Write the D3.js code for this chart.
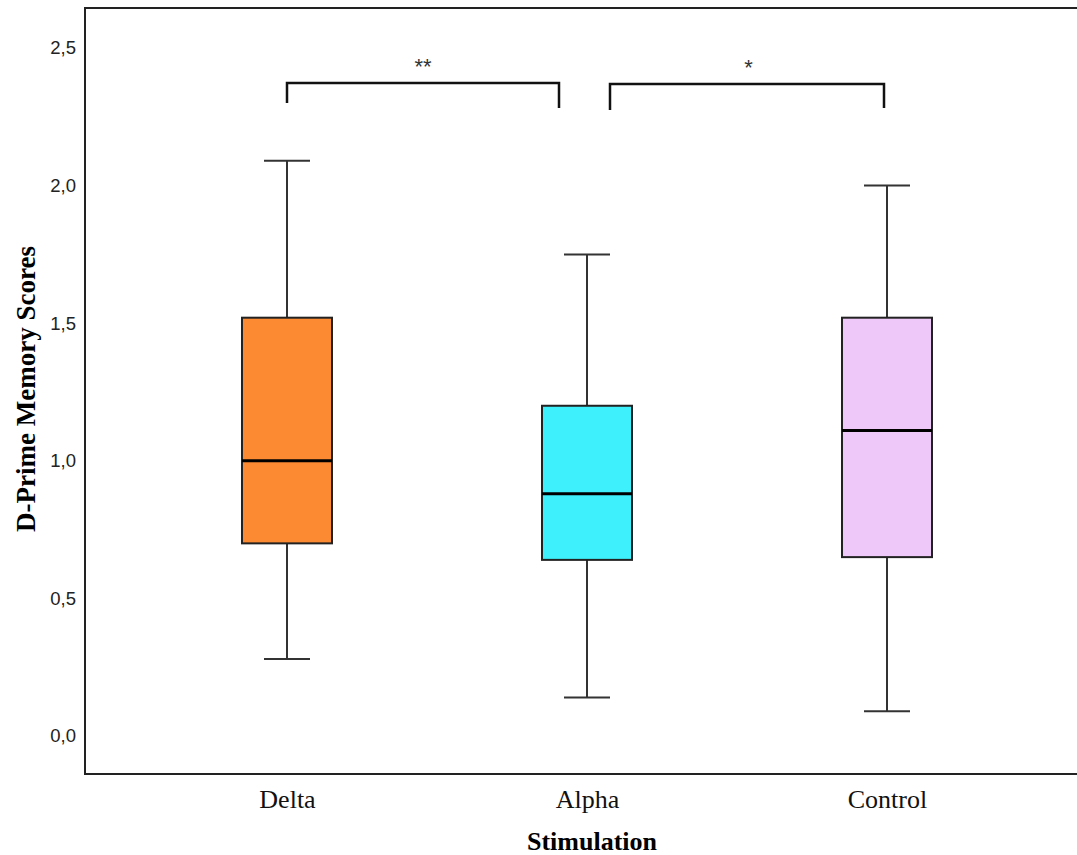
<!DOCTYPE html>
<html>
<head>
<meta charset="utf-8">
<script src="https://cdn.jsdelivr.net/npm/d3@7"></script>
<style>
  body { margin: 0; background: #fff; }
  svg { display: block; }
</style>
</head>
<body>
<div id="chart"></div>
<script>
// Datos
const groups = ["Delta", "Alpha", "Control"]
const whiskerLow = [0.28, 0.14, 0.09]
const q1 = [0.70, 0.64, 0.65]
const medians = [1.00, 0.88, 1.11]
const q3 = [1.52, 1.20, 1.52]
const whiskerHigh = [2.09, 1.75, 2.00]
const colors = ["#fb8a32", "#3ef0fb", "#eec8f9"]
const yTicks = [0, 0.5, 1.0, 1.5, 2.0, 2.5]

// Comparaciones significativas
const comparisons = [
    { from: "Delta", to: "Alpha", level: 2.373, legFrom: 2.30, legTo: 2.282, label: "**" },
    { from: "Alpha", to: "Control", level: 2.369, legFrom: 2.275, legTo: 2.282, label: "*" }
]

// Constantes
const width = 1077
const height = 855
const margins = { top: 8, bottom: 81, left: 85, right: -10 }

const svg = d3.select("#chart").append("svg").attr("width", width).attr("height", height)

const x = d3.scalePoint().domain(groups).range([287, 887])
const y = d3.scaleLinear().domain([0, 2.5]).range([736, 48])

const boxW = 90
const capW = 46

// Marco
svg.append("rect")
    .attr("x", margins.left).attr("y", margins.top)
    .attr("width", width - margins.left - margins.right)
    .attr("height", height - margins.top - margins.bottom)
    .attr("fill", "none").attr("stroke", "#222").attr("stroke-width", 2)

// Eje Y (solo etiquetas)
const yAxis = d3.axisLeft(y).tickValues(yTicks).tickSize(0).tickPadding(9)
    .tickFormat(d => d3.format(".1f")(d).replace(".", ","))
const gy = svg.append("g").attr("transform", `translate(${margins.left},0)`).call(yAxis)
gy.select(".domain").remove()
gy.selectAll("text").attr("font-family", "Liberation Sans, Arial, sans-serif")
    .attr("font-size", 18.5).attr("fill", "#222")

// Eje X (solo etiquetas)
const xAxis = d3.axisBottom(x).tickSize(0).tickPadding(16)
const gx = svg.append("g").attr("transform", `translate(0,${height - margins.bottom})`).call(xAxis)
gx.select(".domain").remove()
gx.selectAll("text").attr("font-family", "Liberation Serif, Times New Roman, serif")
    .attr("font-size", 26).attr("fill", "#111")

// Titulos
svg.append("text")
    .attr("x", 592).attr("y", 850)
    .attr("text-anchor", "middle")
    .attr("font-family", "Liberation Serif, Times New Roman, serif")
    .attr("font-weight", "bold").attr("font-size", 26)
    .text("Stimulation")

svg.append("text")
    .attr("transform", "translate(35,389) rotate(-90)")
    .attr("text-anchor", "middle")
    .attr("font-family", "Liberation Serif, Times New Roman, serif")
    .attr("font-weight", "bold").attr("font-size", 27)
    .text("D-Prime Memory Scores")

// Cajas
const data = groups.map((g, i) => ({
    g, lo: whiskerLow[i], q1: q1[i], med: medians[i], q3: q3[i], hi: whiskerHigh[i], color: colors[i]
}))

const boxes = svg.selectAll(".box").data(data).enter().append("g").attr("class", "box")

boxes.append("line")
    .attr("x1", d => x(d.g)).attr("x2", d => x(d.g))
    .attr("y1", d => y(d.hi)).attr("y2", d => y(d.lo))
    .attr("stroke", "#333").attr("stroke-width", 2)

boxes.selectAll(".cap").data(d => [d, d].map((v, k) => ({ g: v.g, val: k ? v.hi : v.lo })))
    .enter().append("line")
    .attr("x1", d => x(d.g) - capW / 2).attr("x2", d => x(d.g) + capW / 2)
    .attr("y1", d => y(d.val)).attr("y2", d => y(d.val))
    .attr("stroke", "#333").attr("stroke-width", 2)

boxes.append("rect")
    .attr("x", d => x(d.g) - boxW / 2).attr("width", boxW)
    .attr("y", d => y(d.q3)).attr("height", d => y(d.q1) - y(d.q3))
    .attr("fill", d => d.color).attr("stroke", "#222").attr("stroke-width", 2)

boxes.append("line")
    .attr("x1", d => x(d.g) - boxW / 2).attr("x2", d => x(d.g) + boxW / 2)
    .attr("y1", d => y(d.med)).attr("y2", d => y(d.med))
    .attr("stroke", "#000").attr("stroke-width", 3)

// Corchetes de significacion
const gap = 28
comparisons.forEach((c, i) => {
    const x1 = x(c.from) + (i === 1 ? gap - 5 : 0)
    const x2 = x(c.to) - (i === 0 ? gap : 0)
    svg.append("path")
        .attr("d", `M${x1},${y(c.legFrom)}V${y(c.level)}H${x2 - (i === 1 ? 3 : 0)}V${y(c.legTo)}`)
        .attr("fill", "none").attr("stroke", "#111").attr("stroke-width", 2.5)
    svg.append("text")
        .attr("x", (x1 + x2) / 2).attr("y", y(c.level) - 9)
        .attr("text-anchor", "middle")
        .attr("font-family", "Liberation Sans, Arial, sans-serif")
        .attr("font-size", 22).attr("fill", "#333")
        .text(c.label)
})
</script>
</body>
</html>
